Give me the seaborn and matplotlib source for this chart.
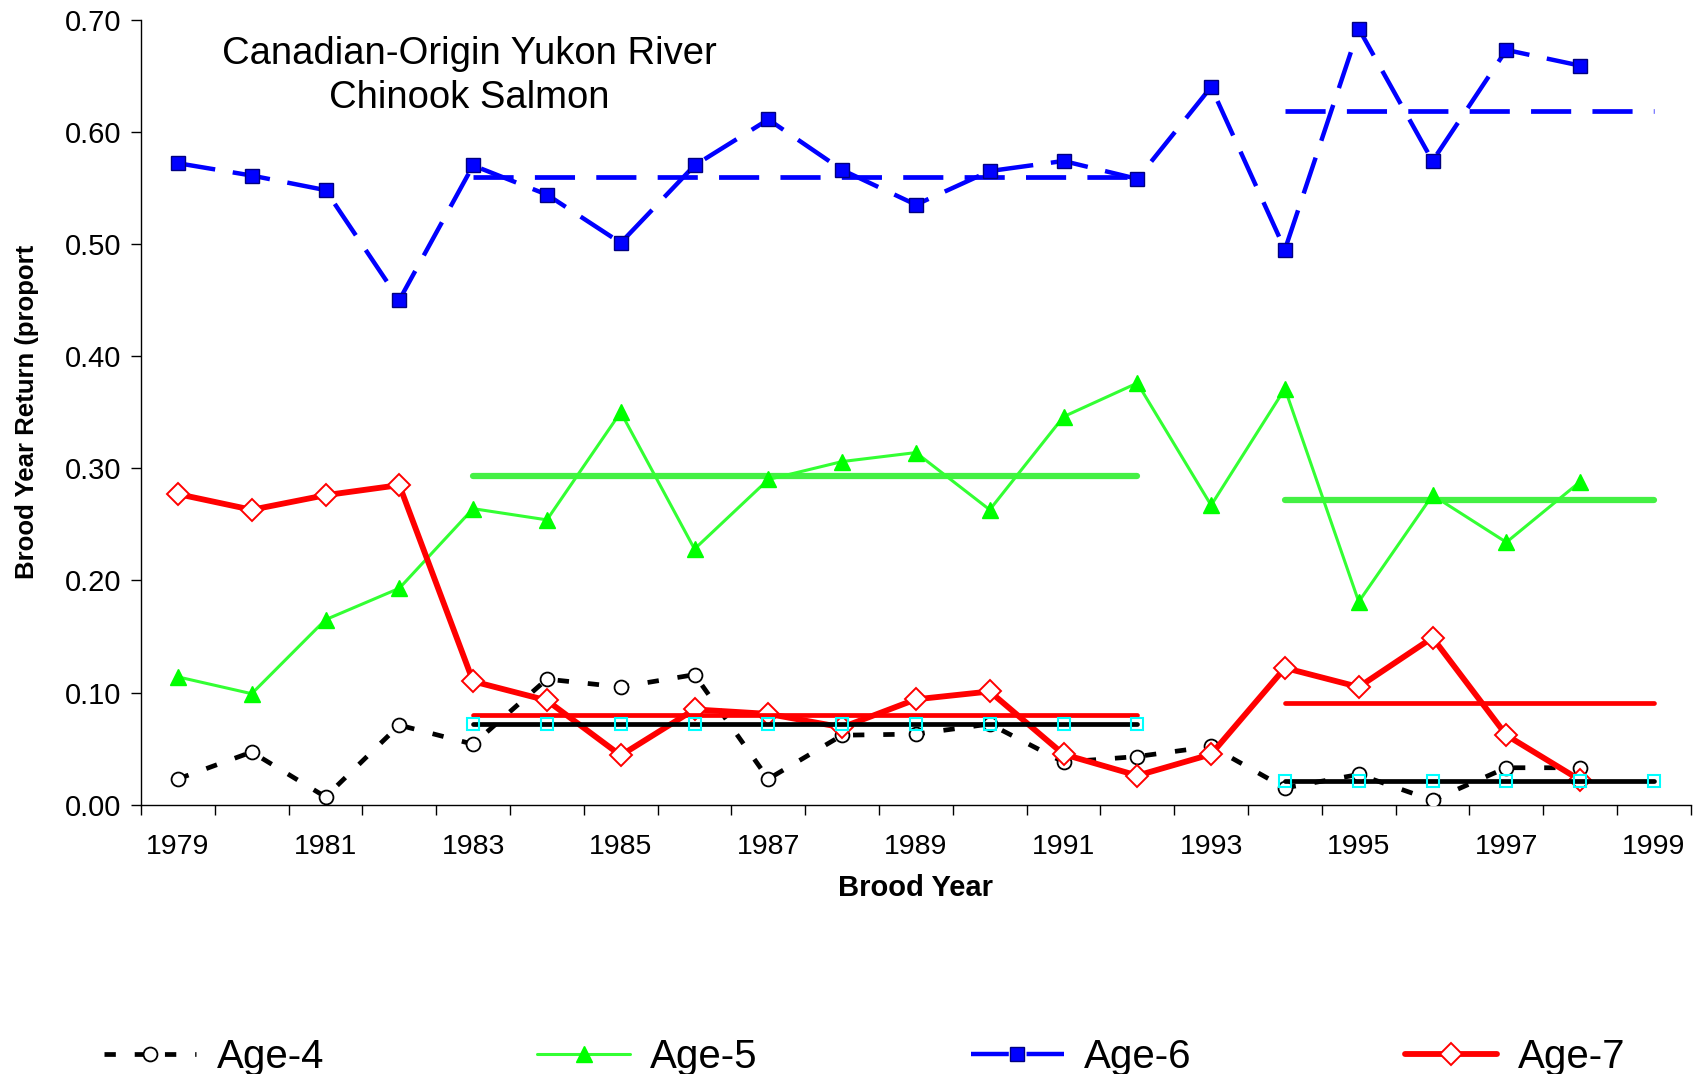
import numpy as np
import matplotlib
matplotlib.use('Agg')
import matplotlib.pyplot as plt
from matplotlib.ticker import FixedLocator, FormatStrFormatter
import seaborn as sns

# brood years and proportion returning at each age
years = list(range(1979, 1999))
age4 = [0.023, 0.047, 0.007, 0.071, 0.054, 0.112, 0.105, 0.116, 0.023, 0.062,
        0.063, 0.072, 0.038, 0.043, 0.052, 0.015, 0.027, 0.004, 0.033, 0.033]
age5 = [0.114, 0.099, 0.165, 0.193, 0.264, 0.254, 0.350, 0.228, 0.290, 0.306,
        0.314, 0.263, 0.346, 0.376, 0.267, 0.371, 0.181, 0.276, 0.234, 0.288]
age6 = [0.572, 0.561, 0.548, 0.450, 0.570, 0.544, 0.501, 0.570, 0.611, 0.566,
        0.535, 0.565, 0.574, 0.558, 0.640, 0.495, 0.692, 0.574, 0.673, 0.659]
age7 = [0.277, 0.263, 0.276, 0.285, 0.110, 0.093, 0.044, 0.085, 0.081, 0.069,
        0.094, 0.101, 0.045, 0.026, 0.045, 0.122, 0.105, 0.149, 0.062, 0.022]

# period averages
period_a = list(range(1983, 1993))
period_b = list(range(1994, 2000))
mean_a = {'Age-4': 0.072, 'Age-5': 0.293, 'Age-6': 0.560, 'Age-7': 0.080}
mean_b = {'Age-4': 0.021, 'Age-5': 0.272, 'Age-6': 0.619, 'Age-7': 0.091}

title = 'Canadian-Origin Yukon River\nChinook Salmon'

sns.set_theme(style='white', rc={'text.color': 'black', 'axes.labelcolor': 'black',
                                 'xtick.color': 'black', 'ytick.color': 'black'})
plt.rcParams['font.family'] = ['Liberation Sans', 'DejaVu Sans']

fig = plt.figure(figsize=(17.05, 10.74), dpi=100)
ax = fig.add_axes([0.0827, 0.2507, 0.909, 0.731])

# data series
sns.lineplot(x=years, y=age4, ax=ax, color='black', lw=3.4, linestyle=(0, (2.4, 4.0)),
             marker='o', markersize=10, markerfacecolor='white', markeredgecolor='black',
             markeredgewidth=1.3, label='Age-4', zorder=3)
sns.lineplot(x=years, y=age5, ax=ax, color='#33FF33', lw=2.2,
             marker='^', markersize=11, markerfacecolor='#00FF00', markeredgecolor='#00FF00',
             markeredgewidth=1, label='Age-5', zorder=3)
sns.lineplot(x=years, y=age6, ax=ax, color='#0000FF', lw=3.2, linestyle=(0, (8.5, 4.0)),
             marker='s', markersize=10, markerfacecolor='#0000FF', markeredgecolor='#000080',
             markeredgewidth=1, label='Age-6', zorder=3)
sns.lineplot(x=years, y=age7, ax=ax, color='#FF0000', lw=4.2,
             marker='D', markersize=11, markerfacecolor='white', markeredgecolor='#FF0000',
             markeredgewidth=1.4, label='Age-7', zorder=4)

# period means
for yrs, means in [(period_a, mean_a), (period_b, mean_b)]:
    n = len(yrs)
    sns.lineplot(x=yrs, y=np.full(n, means['Age-5']), ax=ax, color='#44F044', lw=4.5, zorder=2)
    sns.lineplot(x=yrs, y=np.full(n, means['Age-6']), ax=ax, color='#0000FF', lw=3.4,
                 linestyle=(0, (8.5, 4.5)), zorder=2)
    sns.lineplot(x=yrs, y=np.full(n, means['Age-7']), ax=ax, color='#FF0000', lw=3.4,
                 solid_capstyle='round', zorder=5)
    sns.lineplot(x=yrs, y=np.full(n, means['Age-4']), ax=ax, color='black', lw=3.4,
                 solid_capstyle='round', marker='s', markersize=9, markerfacecolor='none',
                 markeredgecolor='#00FFFF', markeredgewidth=1.5, zorder=5)

handles, labels = ax.get_legend_handles_labels()
if ax.get_legend() is not None:
    ax.get_legend().remove()

ax.set_xlim(1978.5, 1999.5)
ax.set_ylim(0, 0.70)
ax.xaxis.set_major_locator(FixedLocator(list(range(1979, 2000, 2))))
ax.xaxis.set_minor_locator(FixedLocator(list(np.arange(1978.5, 2000, 1.0))))
ax.yaxis.set_major_locator(FixedLocator(list(np.arange(0, 0.71, 0.1))))
ax.yaxis.set_major_formatter(FormatStrFormatter('%.2f'))
ax.tick_params(axis='x', which='major', length=0, pad=21, labelsize=20.5)
ax.tick_params(axis='x', which='minor', length=7, width=1, direction='out', color='black', bottom=True)
ax.tick_params(axis='y', length=7, width=1, direction='out', color='black', pad=7, labelsize=21, left=True)

for s in ['top', 'right']:
    ax.spines[s].set_visible(False)
for s in ['left', 'bottom']:
    ax.spines[s].set_color('black')
    ax.spines[s].set_linewidth(1)

ax.set_xlabel('Brood Year', fontsize=21, fontweight='bold', labelpad=10)
ax.set_ylabel('Brood Year Return (proport', fontsize=18.5, fontweight='bold')
ax.yaxis.set_label_coords(-0.066, 0.5)

fig.text(0.275, 0.929, title, ha='center', va='center', fontsize=27.5, linespacing=1.3)

fig.legend(handles, labels, loc='center', bbox_to_anchor=(0.507, 0.016), ncol=4,
           frameon=False, fontsize=29, handlelength=2.3, handletextpad=0.5,
           columnspacing=5.3)

fig.savefig('out.png', dpi=100)
